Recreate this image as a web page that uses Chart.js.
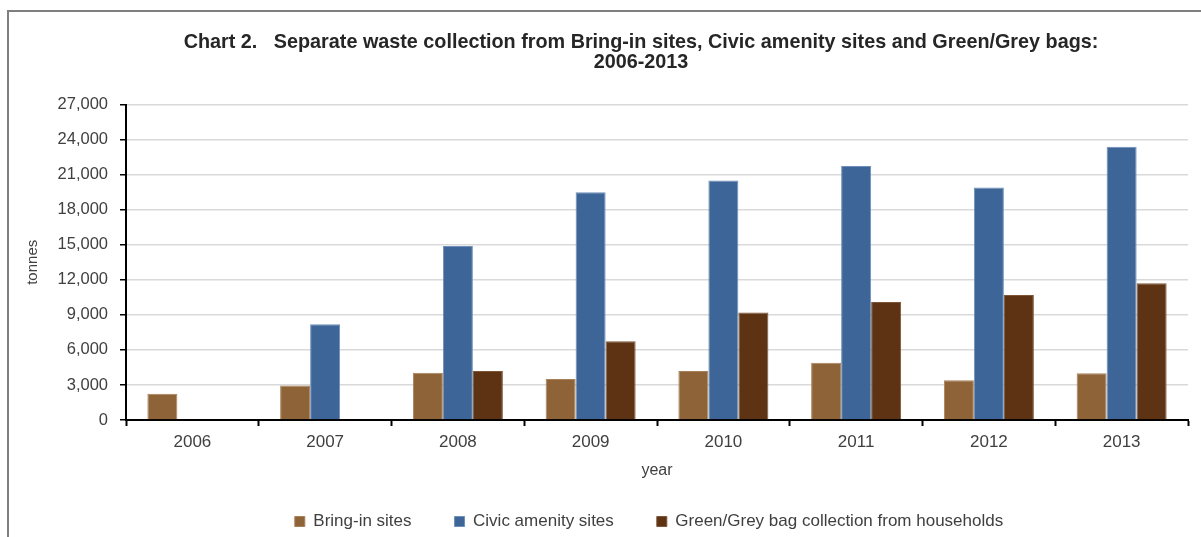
<!DOCTYPE html>
<html>
<head>
<meta charset="utf-8">
<script src="https://cdn.jsdelivr.net/npm/chart.js@4/dist/chart.umd.min.js"></script>
<style>
  html, body { margin: 0; padding: 0; background: #ffffff; overflow: hidden; }
  #wrap { position: relative; width: 1201px; height: 537px; }
  #frame { position: absolute; left: 7px; top: 10px; width: 1300px; height: 700px; border: 2px solid #7f7f7f; box-sizing: border-box; }
  #c { position: absolute; left: 0; top: 0; }
</style>
</head>
<body>
<div id="wrap">
  <div id="frame"></div>
  <canvas id="c" width="1201" height="537"></canvas>
</div>
<script>
const titleLines = [
  'Chart 2.   Separate waste collection from Bring-in sites, Civic amenity sites and Green/Grey bags:',
  '2006-2013'
];
const years = ['2006', '2007', '2008', '2009', '2010', '2011', '2012', '2013'];
const bringInSites = [2250, 2950, 4050, 3500, 4200, 4900, 3400, 4000];
const civicAmenitySites = [null, 8200, 14900, 19500, 20500, 21750, 19900, 23400];
const greenGreyBags = [null, null, 4200, 6750, 9200, 10100, 10700, 11700];
const seriesNames = ['Bring-in sites', 'Civic amenity sites', 'Green/Grey bag collection from households'];
const yTickValues = [0, 3000, 6000, 9000, 12000, 15000, 18000, 21000, 24000, 27000];
const yAxisTitle = 'tonnes';
const xAxisTitle = 'year';

const FONT = '"Liberation Sans", Arial, Helvetica, sans-serif';
const TEXT = '#404040';

const shiftBlocks = {
  id: 'shiftBlocks',
  afterLayout(chart) {
    if (chart.titleBlock) { chart.titleBlock.left = 94; }
    if (chart.legend) {
      const lg = chart.legend;
      const cur = (lg.left + lg.right) / 2;
      const dx = 649 - cur;
      lg.left += dx;
      lg.right += dx;
    }
  }
};

new Chart(document.getElementById('c'), {
  type: 'bar',
  data: {
    labels: years,
    datasets: [
      { label: seriesNames[0], data: bringInSites, backgroundColor: '#8F6338', borderColor: '#a98058', borderWidth: 1 },
      { label: seriesNames[1], data: civicAmenitySites, backgroundColor: '#3D6597', borderColor: '#6d8fb8', borderWidth: 1 },
      { label: seriesNames[2], data: greenGreyBags, backgroundColor: '#5E3314', borderColor: '#7e5536', borderWidth: 1 }
    ]
  },
  options: {
    responsive: false,
    animation: false,
    devicePixelRatio: 1,
    categoryPercentage: 0.678,
    barPercentage: 1.0,
    layout: { padding: { left: 20, right: 13, top: 33, bottom: -3 } },
    plugins: {
      title: {
        display: true,
        text: titleLines,
        color: '#262626',
        font: { family: FONT, size: 19.8, weight: 'bold', lineHeight: 1.0 },
        padding: { top: 0, bottom: 32 }
      },
      legend: {
        display: true,
        position: 'bottom',
        labels: {
          color: TEXT,
          font: { family: FONT, size: 17 },
          boxWidth: 10,
          boxHeight: 10,
          padding: 43
        }
      },
      tooltip: { enabled: false }
    },
    scales: {
      x: {
        grid: { display: true, drawOnChartArea: false, drawTicks: true, tickLength: 6, tickColor: '#000000', tickWidth: 2, offset: true },
        border: { display: true, color: '#000000', width: 2 },
        ticks: { color: TEXT, font: { family: FONT, size: 17 }, padding: 6 },
        title: { display: true, text: xAxisTitle, color: TEXT, font: { family: FONT, size: 16 }, padding: { top: 0, bottom: -10 } },
        afterFit(scale) { scale.height = 50; }
      },
      y: {
        min: 0,
        max: 27000,
        afterBuildTicks(scale) { scale.ticks = yTickValues.map(v => ({ value: v })); },
        grid: { color: '#d9d9d9', lineWidth: 1.5, drawTicks: true, tickLength: 6, tickColor: '#000000', tickWidth: 1.5 },
        border: { display: true, color: '#000000', width: 2 },
        ticks: {
          color: TEXT,
          font: { family: FONT, size: 16.5 },
          padding: 12,
          callback: (v) => Number(v).toLocaleString('en-US')
        },
        title: { display: true, text: yAxisTitle, color: TEXT, font: { family: FONT, size: 15 }, padding: { top: 4, bottom: 0 } },
        afterFit(scale) { scale.width = 106; }
      }
    }
  },
  plugins: [shiftBlocks]
});
</script>
</body>
</html>
